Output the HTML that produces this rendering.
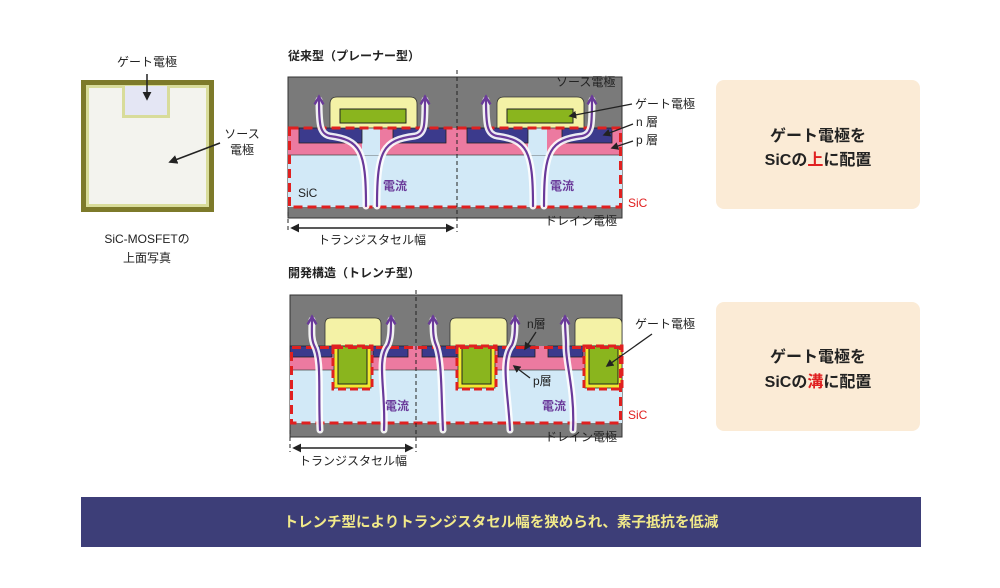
<!DOCTYPE html>
<html><head><meta charset="utf-8"><style>
html,body{margin:0;padding:0;background:#fff;}
svg{display:block;font-family:"Liberation Sans","Noto Sans CJK JP",sans-serif;}
.t{font-size:12px;fill:#222;}
.b{font-weight:bold;}
</style></head><body>
<svg width="1000" height="588" viewBox="0 0 1000 588" xmlns="http://www.w3.org/2000/svg">
<defs>
<marker id="ah" viewBox="0 0 10 10" refX="8" refY="5" markerWidth="6" markerHeight="6" orient="auto-start-reverse"><path d="M0,0 L10,5 L0,10 z" fill="#222"/></marker>
<marker id="pa" viewBox="0 0 10 10" refX="5" refY="5" markerWidth="5" markerHeight="5" orient="auto"><path d="M1,1 L8,5 L1,9" fill="none" stroke="#6a3a9a" stroke-width="2.2"/></marker>
</defs>

<!-- photo -->
<text x="147" y="66" class="t" text-anchor="middle">ゲート電極</text>
<rect x="81" y="80" width="133" height="132" fill="#7d7a2a"/>
<rect x="86" y="85" width="123" height="122" fill="#d8dc9a"/>
<rect x="89" y="88" width="117" height="116" fill="#f3f3ee"/>
<rect x="122" y="86" width="48" height="32" fill="#d8dc9a"/>
<rect x="125" y="86" width="42" height="29" fill="#e4e6f4"/>
<line x1="147" y1="74" x2="147" y2="99" stroke="#222" stroke-width="1.5" marker-end="url(#ah)"/>
<text x="242" y="138" class="t" text-anchor="middle">ソース</text>
<text x="242" y="154" class="t" text-anchor="middle">電極</text>
<line x1="220" y1="143" x2="170" y2="162" stroke="#222" stroke-width="1.5" marker-end="url(#ah)"/>
<text x="147" y="243" class="t" text-anchor="middle" font-size="14">SiC-MOSFETの</text>
<text x="147" y="262" class="t" text-anchor="middle" font-size="14">上面写真</text>

<!-- TOP diagram -->
<text x="288" y="60" class="t b" font-size="14">従来型（プレーナー型）</text>
<rect x="288" y="77" width="334" height="141" fill="#7a7a7a" stroke="#333" stroke-width="1"/>
<rect x="288" y="128" width="334" height="79" fill="#d2e9f7"/>
<rect x="288" y="128" width="334" height="27" fill="#ec7aa0"/>
<line x1="288" y1="155" x2="622" y2="155" stroke="#444" stroke-width="0.8"/>
<rect x="362" y="128" width="18" height="27" fill="#d2e9f7"/>
<rect x="528" y="128" width="19" height="27" fill="#d2e9f7"/>
<rect x="299" y="128" width="63" height="15" fill="#3b3a8c" stroke="#222" stroke-width="0.8"/>
<rect x="393" y="128" width="53" height="15" fill="#3b3a8c" stroke="#222" stroke-width="0.8"/>
<rect x="467" y="128" width="61" height="15" fill="#3b3a8c" stroke="#222" stroke-width="0.8"/>
<rect x="562" y="128" width="50" height="15" fill="#3b3a8c" stroke="#222" stroke-width="0.8"/>
<path d="M330,128 V104 q0,-7 7,-7 H410 q7,0 7,7 V128 Z" fill="#f4f2a6" stroke="#333" stroke-width="0.8"/>
<rect x="340" y="109" width="66" height="14" fill="#8ab51e" stroke="#222" stroke-width="1"/>
<path d="M497,128 V104 q0,-7 7,-7 H577 q7,0 7,7 V128 Z" fill="#f4f2a6" stroke="#333" stroke-width="0.8"/>
<rect x="507" y="109" width="66" height="14" fill="#8ab51e" stroke="#222" stroke-width="1"/>
<rect x="289.5" y="128" width="331" height="79" fill="none" stroke="#e02020" stroke-width="3" stroke-dasharray="9,5"/>
<line x1="457" y1="70" x2="457" y2="232" stroke="#222" stroke-width="1" stroke-dasharray="4,3"/>
<line x1="288" y1="212" x2="288" y2="232" stroke="#222" stroke-width="1" stroke-dasharray="4,3"/>
<g fill="none" stroke-linecap="round">
<g stroke="#fff" stroke-width="7" opacity="0.9">
<path d="M366,206 C366,150 360,140 330,136 C320,134 319,125 319,100"/>
<path d="M377,206 C377,150 383,140 415,136 C425,134 425,125 425,100"/>
<path d="M533,206 C533,150 527,140 497,136 C487,134 486,125 486,100"/>
<path d="M544,206 C544,150 550,140 582,136 C592,134 592,125 592,100"/>
</g>
<g stroke="#6a3a9a" stroke-width="2.2" marker-end="url(#pa)">
<path d="M366,206 C366,150 360,140 330,136 C320,134 319,125 319,100"/>
<path d="M377,206 C377,150 383,140 415,136 C425,134 425,125 425,100"/>
<path d="M533,206 C533,150 527,140 497,136 C487,134 486,125 486,100"/>
<path d="M544,206 C544,150 550,140 582,136 C592,134 592,125 592,100"/>
</g>
</g>
<text x="556" y="86" class="t">ソース電極</text>
<text x="383" y="190" font-size="12" fill="#6a3a9a" font-weight="bold">電流</text>
<text x="550" y="190" font-size="12" fill="#6a3a9a" font-weight="bold">電流</text>
<text x="298" y="197" class="t">SiC</text>
<text x="628" y="207" font-size="12" fill="#e02020">SiC</text>
<text x="545" y="225" class="t">ドレイン電極</text>
<text x="635" y="108" class="t">ゲート電極</text>
<text x="636" y="126" class="t">n 層</text>
<text x="636" y="144" class="t">p 層</text>
<line x1="632" y1="104" x2="570" y2="116" stroke="#222" stroke-width="1.3" marker-end="url(#ah)"/>
<line x1="633" y1="124" x2="604" y2="135" stroke="#222" stroke-width="1.3" marker-end="url(#ah)"/>
<line x1="633" y1="141" x2="612" y2="148" stroke="#222" stroke-width="1.3" marker-end="url(#ah)"/>
<line x1="292" y1="228" x2="453" y2="228" stroke="#222" stroke-width="1.5" marker-start="url(#ah)" marker-end="url(#ah)"/>
<text x="372" y="244" class="t" text-anchor="middle">トランジスタセル幅</text>

<!-- BOTTOM diagram -->
<text x="288" y="277" class="t b" font-size="14">開発構造（トレンチ型）</text>
<rect x="290" y="295" width="332" height="142" fill="#7a7a7a" stroke="#333" stroke-width="1"/>
<rect x="290" y="346" width="332" height="77" fill="#d2e9f7"/>
<rect x="290" y="346" width="332" height="24" fill="#ec7aa0"/>
<line x1="290" y1="370" x2="622" y2="370" stroke="#444" stroke-width="0.8"/>
<rect x="290" y="346" width="42" height="11" fill="#3b3a8c" stroke="#222" stroke-width="0.8"/>
<rect x="373" y="346" width="35" height="11" fill="#3b3a8c" stroke="#222" stroke-width="0.8"/>
<rect x="422" y="346" width="35" height="11" fill="#3b3a8c" stroke="#222" stroke-width="0.8"/>
<rect x="498" y="346" width="37" height="11" fill="#3b3a8c" stroke="#222" stroke-width="0.8"/>
<rect x="548" y="346" width="35" height="11" fill="#3b3a8c" stroke="#222" stroke-width="0.8"/>
<g>
<path d="M325,346 V324 q0,-6 6,-6 H375 q6,0 6,6 V346 Z" fill="#f4f2a6" stroke="#333" stroke-width="0.8"/>
<rect x="334" y="346" width="37" height="42" fill="#f0ea30" stroke="#333" stroke-width="0.8"/>
<rect x="338" y="346" width="29" height="38" fill="#8ab51e" stroke="#222" stroke-width="1"/>
<rect x="333" y="346" width="39" height="43" fill="none" stroke="#e02020" stroke-width="3" stroke-dasharray="8,4"/>
<path d="M450,346 V324 q0,-6 6,-6 H501 q6,0 6,6 V346 Z" fill="#f4f2a6" stroke="#333" stroke-width="0.8"/>
<rect x="458" y="346" width="37" height="42" fill="#f0ea30" stroke="#333" stroke-width="0.8"/>
<rect x="462" y="346" width="29" height="38" fill="#8ab51e" stroke="#222" stroke-width="1"/>
<rect x="457" y="346" width="39" height="43" fill="none" stroke="#e02020" stroke-width="3" stroke-dasharray="8,4"/>
<path d="M575,346 V324 q0,-6 6,-6 H616 q6,0 6,6 V346 Z" fill="#f4f2a6" stroke="#333" stroke-width="0.8"/>
<rect x="585" y="346" width="37" height="42" fill="#f0ea30" stroke="#333" stroke-width="0.8"/>
<rect x="589" y="346" width="29" height="38" fill="#8ab51e" stroke="#222" stroke-width="1"/>
<rect x="584" y="346" width="38" height="43" fill="none" stroke="#e02020" stroke-width="3" stroke-dasharray="8,4"/>
</g>
<path d="M291.5,389 V347.5 H620.5 V423 H291.5 Z" fill="none" stroke="#e02020" stroke-width="3" stroke-dasharray="9,5"/>
<line x1="416" y1="290" x2="416" y2="452" stroke="#222" stroke-width="1" stroke-dasharray="4,3"/>
<line x1="290" y1="430" x2="290" y2="452" stroke="#222" stroke-width="1" stroke-dasharray="4,3"/>
<g fill="none" stroke-linecap="round">
<g stroke="#fff" stroke-width="7" opacity="0.9">
<path d="M320,430 C318,390 322,360 314,345 C311,338 312,330 312,320"/>
<path d="M384,430 C386,390 376,360 388,345 C391,338 391,330 391,320"/>
<path d="M443,430 C441,390 442,360 436,345 C433,338 433,330 433,320"/>
<path d="M510,430 C508,390 500,360 512,345 C515,338 515,330 515,320"/>
<path d="M573,430 C575,390 565,360 566,345 C566,338 565,330 565,320"/>
</g>
<g stroke="#6a3a9a" stroke-width="2.2" marker-end="url(#pa)">
<path d="M320,430 C318,390 322,360 314,345 C311,338 312,330 312,320"/>
<path d="M384,430 C386,390 376,360 388,345 C391,338 391,330 391,320"/>
<path d="M443,430 C441,390 442,360 436,345 C433,338 433,330 433,320"/>
<path d="M510,430 C508,390 500,360 512,345 C515,338 515,330 515,320"/>
<path d="M573,430 C575,390 565,360 566,345 C566,338 565,330 565,320"/>
</g>
</g>
<text x="385" y="410" font-size="12" fill="#6a3a9a" font-weight="bold">電流</text>
<text x="542" y="410" font-size="12" fill="#6a3a9a" font-weight="bold">電流</text>
<text x="628" y="419" font-size="12" fill="#e02020">SiC</text>
<text x="545" y="441" class="t">ドレイン電極</text>
<text x="527" y="328" class="t">n層</text>
<text x="533" y="385" class="t">p層</text>
<text x="635" y="328" class="t">ゲート電極</text>
<line x1="536" y1="332" x2="525" y2="349" stroke="#222" stroke-width="1.3" marker-end="url(#ah)"/>
<line x1="530" y1="378" x2="514" y2="366" stroke="#222" stroke-width="1.3" marker-end="url(#ah)"/>
<line x1="652" y1="334" x2="607" y2="366" stroke="#222" stroke-width="1.3" marker-end="url(#ah)"/>
<line x1="294" y1="448" x2="412" y2="448" stroke="#222" stroke-width="1.5" marker-start="url(#ah)" marker-end="url(#ah)"/>
<text x="353" y="465" class="t" text-anchor="middle">トランジスタセル幅</text>

<!-- right boxes -->
<rect x="716" y="80" width="204" height="129" rx="8" fill="#fbebd6"/>
<text x="818" y="141" text-anchor="middle" font-size="16" font-weight="bold" fill="#222">ゲート電極を</text>
<text x="818" y="165" text-anchor="middle" font-size="16" font-weight="bold" fill="#222">SiCの<tspan fill="#e02020">上</tspan>に配置</text>
<rect x="716" y="302" width="204" height="129" rx="8" fill="#fbebd6"/>
<text x="818" y="362" text-anchor="middle" font-size="16" font-weight="bold" fill="#222">ゲート電極を</text>
<text x="818" y="387" text-anchor="middle" font-size="16" font-weight="bold" fill="#222">SiCの<tspan fill="#e02020">溝</tspan>に配置</text>

<!-- banner -->
<rect x="81" y="497" width="840" height="50" fill="#3d3e78"/>
<text x="501" y="527" text-anchor="middle" font-size="14.5" font-weight="bold" fill="#f2ea8a">トレンチ型によりトランジスタセル幅を狭められ、素子抵抗を低減</text>
</svg>
</body></html>
